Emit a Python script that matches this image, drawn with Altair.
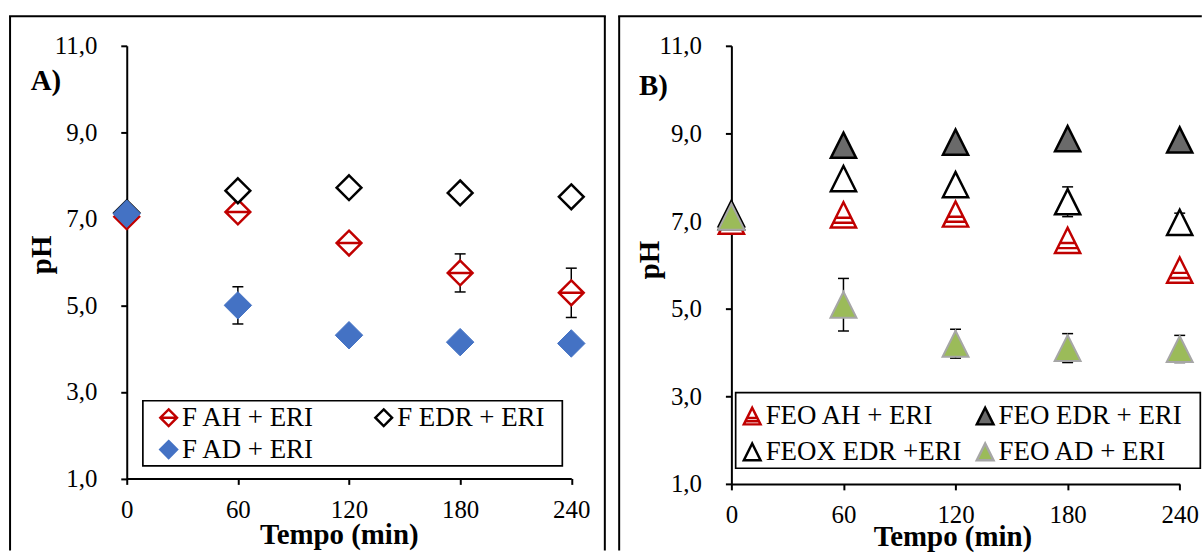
import altair as alt
import pandas as pd

times = [0, 60, 120, 180, 240]
x_ticks = [0, 60, 120, 180, 240]
y_ticks = [1, 3, 5, 7, 9, 11]

# Panel A data
a_names = ["F AH + ERI", "F EDR + ERI", "F AD + ERI"]
a_ah = [7.05, 7.16, 6.44, 5.75, 5.29]
a_ah_err = [0, 0, 0, 0.44, 0.57]
a_edr = [7.14, 7.65, 7.72, 7.60, 7.51]
a_edr_err = [0, 0, 0, 0, 0]
a_ad = [7.12, 5.00, 4.31, 4.15, 4.12]
a_ad_err = [0, 0.43, 0, 0, 0]
a_legend_order = ["F AH + ERI", "F AD + ERI", "F EDR + ERI"]

# Panel B data
b_names = ["FEO AH + ERI", "FEO EDR + ERI", "FEOX EDR +ERI", "FEO AD + ERI"]
b_ah = [7.00, 7.14, 7.16, 6.56, 5.88]
b_ah_err = [0, 0, 0, 0, 0]
b_edr = [7.10, 8.73, 8.80, 8.88, 8.85]
b_edr_err = [0, 0, 0, 0, 0]
b_oxedr = [7.17, 7.97, 7.83, 7.44, 6.97]
b_oxedr_err = [0, 0, 0, 0.34, 0.21]
b_ad = [7.10, 5.09, 4.20, 4.10, 4.08]
b_ad_err = [0, 0.60, 0.33, 0.33, 0.31]
b_legend_order = ["FEO AH + ERI", "FEOX EDR +ERI", "FEO EDR + ERI", "FEO AD + ERI"]

SERIF = "Liberation Serif"

DIAMOND = "M0,-1L1,0L0,1L-1,0Z"
DIAMOND_LINE = "M0,-1L1,0L0,1L-1,0Z M-1,0L1,0"
TRI = "M0,-1L1,1L-1,1Z"
TRI_LINES = "M0,-1L1,1L-1,1Z M-0.61,0.22L0.61,0.22 M-0.81,0.62L0.81,0.62"


def frame(names, values, errs):
    rows = []
    for name, vals, es in zip(names, values, errs):
        for t, v, e in zip(times, vals, es):
            rows.append(dict(series=name, t=t, ph=v, err=e, lo=v - e, hi=v + e))
    return pd.DataFrame(rows)


def panel(df, names, order, style, tag, g):
    xs = alt.Scale(domain=[0, 240], nice=False, zero=False)
    ys = alt.Scale(domain=[1, 11], nice=False, zero=False)
    xax = alt.Axis(values=x_ticks, title="Tempo (min)", labelFlush=False,
                   labelPadding=13, titleX=g["tx"], titleY=g["ty"],
                   titleAlign="center", titleBaseline="alphabetic")
    yax = alt.Axis(values=y_ticks, title="pH",
                   labelExpr="replace(format(datum.value, '.1f'), '.', ',')",
                   labelPadding=24, titleAngle=270, titleX=g["px"], titleY=g["py"],
                   titleAlign="center", titleBaseline="middle")

    def X(f):
        return alt.X(f, type="quantitative", scale=xs, axis=xax)

    def Y(f):
        return alt.Y(f, type="quantitative", scale=ys, axis=yax)

    leg = alt.Legend(orient="none", legendX=g["lx"], legendY=g["ly"], columns=2,
                     title=None, labelFont=SERIF, labelFontSize=27,
                     labelColor="black", labelLimit=400, labelOffset=0,
                     symbolSize=280, symbolStrokeWidth=2.5, symbolOpacity=1,
                     rowPadding=g["rp"], columnPadding=g["cp"], padding=0)

    shape_s = alt.Scale(domain=order, range=[style[n][0] for n in order])
    fill_s = alt.Scale(domain=order, range=[style[n][1] for n in order])
    stroke_s = alt.Scale(domain=order, range=[style[n][2] for n in order])

    bd = alt.Data(values=[{"k": 0}])
    layers = []
    layers.append(alt.Chart(bd).mark_rule(color="black", strokeWidth=2).encode(
        x=alt.value(g["bl"] - 1), x2=alt.value(g["br"] + 1), y=alt.value(g["bt"]), y2=alt.value(g["bt"])))
    layers.append(alt.Chart(bd).mark_rule(color="black", strokeWidth=2).encode(
        x=alt.value(g["bl"]), y=alt.value(g["bt"]), y2=alt.value(g["bb"])))
    if g["right"]:
        layers.append(alt.Chart(bd).mark_rule(color="black", strokeWidth=2).encode(
            x=alt.value(g["br"]), y=alt.value(g["bt"]), y2=alt.value(g["bb"])))
    # legend frame
    layers.append(alt.Chart(bd).mark_rect(fill="white", stroke="black", strokeWidth=1.7).encode(
        x=alt.value(g["fx1"]), x2=alt.value(g["fx2"]), y=alt.value(g["fy1"]), y2=alt.value(g["fy2"])))

    e = df[df.err > 0]
    layers.append(alt.Chart(e).mark_rule(color="black", strokeWidth=1.5).encode(
        x=X("t"), y=Y("lo"), y2=alt.Y2("hi")))
    for f in ["hi", "lo"]:
        layers.append(alt.Chart(e).mark_tick(orient="horizontal", color="black", thickness=1.5,
                                             size=11, opacity=1).encode(x=X("t"), y=Y(f)))

    for n in names:
        layers.append(
            alt.Chart(df).transform_filter(alt.datum.series == n)
            .mark_point(filled=True, opacity=1, size=style[n][3], strokeWidth=style[n][4])
            .encode(
                x=X("t"), y=Y("ph"),
                shape=alt.Shape("series:N", scale=shape_s, legend=leg),
                fill=alt.Fill("series:N", scale=fill_s, legend=leg),
                stroke=alt.Stroke("series:N", scale=stroke_s, legend=leg),
            )
        )

    return alt.layer(*layers).properties(
        width=g["w"], height=g["h"],
        title=alt.TitleParams(tag, anchor="start", frame="group", font=SERIF, fontSize=29,
                              fontWeight="bold", color="black", baseline="alphabetic",
                              offset=0, dx=g["tdx"], dy=g["tdy"]),
    )


dfa = frame(a_names, [a_ah, a_edr, a_ad], [a_ah_err, a_edr_err, a_ad_err])
dfb = frame(b_names, [b_ah, b_edr, b_oxedr, b_ad], [b_ah_err, b_edr_err, b_oxedr_err, b_ad_err])

# shape, fill, stroke, size, strokeWidth
style_a = {
    "F AH + ERI": (DIAMOND_LINE, "white", "#C00000", 620, 2.5),
    "F EDR + ERI": (DIAMOND, "white", "black", 620, 2.5),
    "F AD + ERI": (DIAMOND, "#4472C4", "#4472C4", 760, 1),
}
style_b = {
    "FEO AH + ERI": (TRI_LINES, "white", "#C00000", 640, 2.5),
    "FEO EDR + ERI": (TRI, "#6a6a6a", "black", 640, 2.5),
    "FEOX EDR +ERI": (TRI, "white", "black", 640, 2.5),
    "FEO AD + ERI": (TRI, "#9BBB59", "#A6A6A6", 680, 2),
}

ga = dict(w=446.5, h=434.5, bl=-117.2, bt=-29.7, br=480.2, bb=507, right=True,
          tx=213, ty=65.5, px=-86, py=209.5, lx=28.6, ly=360, rp=4, cp=56,
          fx1=16.2, fx2=437.5, fy1=356.5, fy2=422,
          tdx=-96.5, tdy=103.7)
gb = dict(w=450.3, h=440, bl=-112.7, bt=-29.7, br=471.5, bb=507, right=False,
          tx=222, ty=62, px=-82, py=214.6, lx=7.4, ly=358.3, rp=8, cp=10,
          fx1=4.3, fx2=471, fy1=348.3, fy2=424.3,
          tdx=-92.7, tdy=108.7)

pa = panel(dfa, a_names, a_legend_order, style_a, "A)", ga)
pb = panel(dfb, b_names, b_legend_order, style_b, "B)", gb)

chart = (
    alt.hconcat(pa, pb, spacing=9.3)
    .resolve_scale(shape="independent", fill="independent", stroke="independent")
    .resolve_legend(shape="independent", fill="independent", stroke="independent")
    .properties(padding={"left": 7.3, "top": 13.8, "right": 0, "bottom": 0}, background="white")
    .configure_view(stroke=None)
    .configure_axis(labelFont=SERIF, labelFontSize=25, labelColor="black",
                    domainColor="black", domainWidth=2, tickColor="black", tickWidth=2,
                    tickSize=6, grid=False, titleFont=SERIF, titleFontSize=29,
                    titleFontWeight="bold", titleColor="black")
)

chart.save("out.html", embed_options={"renderer": "svg", "actions": False})
